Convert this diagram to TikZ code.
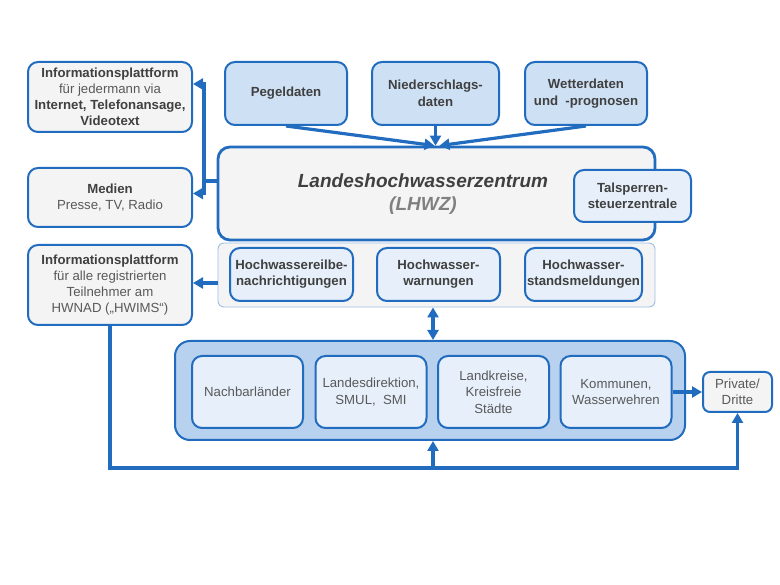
\documentclass[tikz,border=0pt]{standalone}
\usepackage{fontspec}
\setmainfont{Liberation Sans}
\usetikzlibrary{arrows.meta}
\definecolor{hwblue}{RGB}{33,108,190}
\definecolor{hwpale}{RGB}{157,191,227}
\definecolor{hwgray}{RGB}{244,244,245}
\definecolor{hwdata}{RGB}{206,224,244}
\definecolor{hwinner}{RGB}{230,239,250}
\definecolor{hwouter}{RGB}{183,209,238}
\definecolor{txtdark}{RGB}{64,64,64}
\definecolor{txtgray}{RGB}{89,89,89}
\begin{document}
\begin{tikzpicture}[x=1pt,y=-1pt,font=\fontsize{13.2}{16}\selectfont,
  box/.style={draw=hwblue,line width=2pt,rounded corners=10pt,align=center,text=txtgray,inner sep=2pt},
  infobox/.style={box,fill=hwgray,minimum width=164pt},
  databox/.style={box,fill=hwdata,minimum height=63pt,font=\fontsize{13.2}{16.5}\selectfont\bfseries,text=txtdark},
  msgbox/.style={box,fill=hwinner,minimum height=53pt,font=\fontsize{13.2}{16}\selectfont\bfseries,text=txtdark},
  orgbox/.style={box,fill=hwinner,minimum width=111pt,minimum height=72pt,font=\fontsize{13.2}{16.5}\selectfont},
  flow/.style={draw=hwblue,line width=3.2pt,-{Triangle[length=10pt,width=11pt]}}]
\useasboundingbox (0,0) rectangle (780,585);
% left side
\node[infobox,minimum height=70pt] (info1) at (110,97)
  {\textcolor{txtdark}{\bfseries Informationsplattform}\\ für jedermann via\\
   \textcolor{txtdark}{\bfseries Internet, Telefonansage,}\\ \textcolor{txtdark}{\bfseries Videotext}};
\node[infobox,minimum height=59pt] (medien) at (110,197.5)
  {\textcolor{txtdark}{\bfseries Medien}\\ Presse, TV, Radio};
\node[infobox,minimum height=80pt] (info2) at (110,285)
  {\textcolor{txtdark}{\bfseries Informationsplattform}\\ für alle registrierten\\ Teilnehmer am\\ HWNAD („HWIMS“)};
% data sources
\node[databox,minimum width=122pt] (pegel) at (286,93.5) {Pegeldaten};
\node[databox,minimum width=127pt] (nieder) at (435.5,93.5) {Niederschlags-\\daten};
\node[databox,minimum width=122pt] (wetter) at (586,93.5) {Wetterdaten\\und \ -prognosen};
% centre
\node[box,fill=hwgray,line width=2.8pt,rounded corners=12pt,minimum width=437pt,minimum height=93pt] (lhwz) at (436.5,193.5) {};
\node[align=center,font=\fontsize{19}{23}\selectfont\bfseries\itshape] (lhwztext) at (423,194)
  {\textcolor{txtdark}{Landeshochwasserzentrum}\\ \textcolor{gray}{(LHWZ)}};
\node[msgbox,minimum width=117pt,minimum height=52pt] (talsp) at (632.5,196) {Talsperren-\\steuerzentrale};
% messages
\node[box,draw=hwpale,line width=0.9pt,fill=hwgray,rounded corners=6pt,minimum width=437pt,minimum height=64pt] (mid) at (436.5,275) {};
\node[msgbox,minimum width=123pt] (eilbe) at (291.5,274.5) {Hochwassereilbe-\\nachrichtigungen};
\node[msgbox,minimum width=123pt] (warn) at (438.5,274.5) {Hochwasser-\\warnungen};
\node[msgbox,minimum width=117pt] (stand) at (583.5,274.5) {Hochwasser-\\standsmeldungen};
% receivers
\node[box,fill=hwouter,rounded corners=15pt,minimum width=510pt,minimum height=99pt] (bottom) at (430,390.5) {};
\node[orgbox] (nachbar) at (247.5,392) {Nachbarländer};
\node[orgbox] (landesd) at (371,392) {Landesdirektion,\\SMUL, \ SMI};
\node[orgbox] (landkr) at (493.5,392) {Landkreise,\\Kreisfreie\\Städte};
\node[orgbox] (kommunen) at (616,392) {Kommunen,\\Wasserwehren};
\node[box,fill=hwgray,rounded corners=7pt,minimum width=69pt,minimum height=40pt] (private) at (737.5,392) {Private/\\Dritte};
% connectors
\coordinate (junc) at (204,181);
\coordinate (loop) at (433,468);
\draw[flow,-] (lhwz.west |- junc) -- (junc);
\draw[flow] (junc) |- ([yshift=13pt]info1.east);
\draw[flow] (junc) |- ([yshift=4pt]medien.east);
\draw[flow] (pegel.south) -- ([xshift=-2pt]lhwz.north);
\draw[flow] (nieder.south) -- ([xshift=-1pt]lhwz.north);
\draw[flow] (wetter.south) -- ([xshift=3pt]lhwz.north);
\draw[flow] ([yshift=2pt]info2.east -| mid.west) -- ([yshift=2pt]info2.east);
\draw[flow,{Triangle[length=10pt,width=11pt]}-{Triangle[length=10pt,width=11pt]}] ([xshift=3pt]bottom.north |- mid.south) -- ([xshift=3pt]bottom.north);
\draw[flow] (kommunen.east) -- (private.west);
\draw[flow] (info2.south) |- (loop) -| (private.south);
\draw[flow] (loop) -- ([xshift=3pt]bottom.south);
\end{tikzpicture}
\end{document}
